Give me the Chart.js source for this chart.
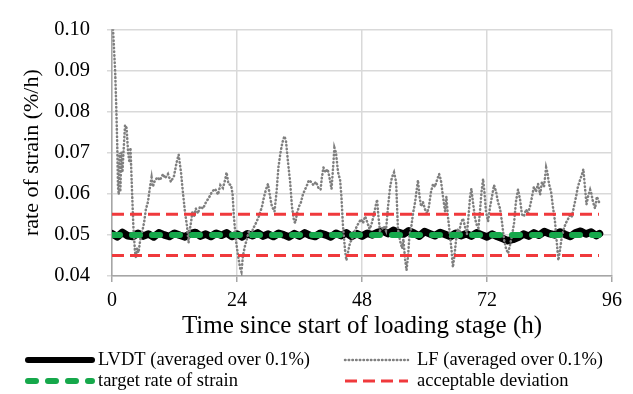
<!DOCTYPE html>
<html>
<head>
<meta charset="utf-8">
<script src="https://cdn.jsdelivr.net/npm/chart.js@4.4.0/dist/chart.umd.min.js"></script>
<style>
  html, body { margin: 0; padding: 0; background: #fff; }
  canvas { display: block; }
</style>
</head>
<body>
<canvas id="grafico" width="633" height="394"></canvas>
<script>
// time (h) and rate of strain (%/h)
const lvdtTime = [0,1,2,3,4,5,6,7,8,9,10,11,12,13,14,15,16,17,18,19,20,21,22,23,24,25,26,27,28,29,30,31,32,33,34,35,36,37,38,39,40,41,42,43,44,45,46,47,48,49,50,51,52,53,54,55,56,57,58,59,60,61,62,63,64,65,66,67,68,69,70,71,72,73,74,75,76,77,78,79,80,81,82,83,84,85,86,87,88,89,90,91,92,93,93.6];
const lvdtRate = [0.0503,0.0495,0.0506,0.0498,0.0496,0.0504,0.0497,0.0502,0.0495,0.0505,0.0500,
  0.0496,0.0504,0.0499,0.0495,0.0503,0.0506,0.0497,0.0502,0.0496,0.0504,
  0.0499,0.0505,0.0496,0.0502,0.0495,0.0503,0.0498,0.0505,0.0497,0.0502,
  0.0496,0.0504,0.0500,0.0495,0.0503,0.0497,0.0505,0.0499,0.0496,0.0504,
  0.0500,0.0495,0.0504,0.0498,0.0505,0.0496,0.0503,0.0497,0.0504,0.0500,
  0.0506,0.0509,0.0503,0.0511,0.0506,0.0502,0.0510,0.0504,0.0497,0.0508,
  0.0503,0.0498,0.0506,0.0501,0.0496,0.0504,0.0498,0.0503,0.0497,0.0505,
  0.0500,0.0495,0.0502,0.0496,0.0491,0.0486,0.0489,0.0494,0.0502,0.0497,
  0.0505,0.0499,0.0508,0.0503,0.0500,0.0507,0.0501,0.0496,0.0505,0.0509,
  0.0502,0.0507,0.0498,0.0503];

const lfTime = [0.2,0.4,0.6,0.8,1.0,1.15,1.3,1.45,1.6,1.8,2.0,2.2,2.5,2.8,3.1,3.35,3.55,3.85,4.1,4.4,4.6,4.8,5.1,5.4,5.75,6.15,6.5,6.9,7.3,7.6,7.85,8.25,8.8,9.2,9.8,10.2,10.75,11.3,11.9,12.4,12.8,13.25,13.6,14.0,14.4,14.7,14.9,15.2,15.45,15.75,16.1,16.5,16.9,17.5,18.05,18.6,19.2,19.8,20.35,20.8,21.3,21.7,22.0,22.35,22.85,23.15,23.4,23.8,24.2,24.6,24.85,25.15,25.55,25.9,26.3,26.7,27.05,27.65,28.2,28.8,29.2,29.55,29.95,30.35,30.7,31.2,31.6,31.95,32.35,32.7,33.1,33.4,33.8,34.2,34.55,34.95,35.2,35.5,35.9,36.3,36.65,37.05,37.45,37.8,38.2,38.7,39.15,39.65,40.05,40.3,40.6,41.0,41.4,41.75,42.15,42.45,42.7,43.0,43.4,43.8,44.05,44.35,44.75,45.0,45.3,45.7,46.1,46.45,46.95,47.35,47.8,48.2,48.6,48.95,49.45,49.8,50.2,50.6,50.9,51.15,51.45,51.85,52.2,52.6,53.0,53.4,53.75,54.15,54.55,54.9,55.3,55.7,55.95,56.25,56.55,56.85,57.1,57.4,57.8,58.2,58.45,58.75,59.05,59.35,59.7,60.1,60.5,60.85,61.25,61.65,62.0,62.4,62.8,63.15,63.55,63.95,64.2,64.5,64.9,65.2,65.45,65.75,66.05,66.35,66.6,67.0,67.4,67.75,68.15,68.45,68.75,69.0,69.3,69.7,70.1,70.35,70.65,70.95,71.25,71.5,71.8,72.2,72.6,72.95,73.35,73.75,74.1,74.5,74.9,75.25,75.65,76.05,76.4,76.8,77.2,77.55,77.95,78.35,78.7,79.1,79.5,79.85,80.25,80.65,81.0,81.4,81.8,82.2,82.55,82.95,83.35,83.6,83.9,84.3,84.65,85.05,85.45,85.7,86.0,86.4,86.8,87.15,87.55,87.95,88.3,88.7,89.1,89.45,89.85,90.25,90.5,90.8,91.1,91.4,91.8,92.05,92.35,92.75,93.1,93.5];
const lfRate = [0.100,0.095,0.090,0.082,0.0724,0.0617,0.0598,0.070,0.0605,0.070,0.0652,0.070,0.0767,0.076,0.070,0.0676,0.0712,0.0605,0.0521,0.0462,0.0443,0.0467,0.0457,0.0486,0.0505,0.0529,0.0562,0.058,0.0617,0.064,0.0617,0.0633,0.064,0.0633,0.0648,0.0638,0.0648,0.0629,0.0643,0.0676,0.0695,0.0652,0.0605,0.0557,0.0521,0.0481,0.051,0.0533,0.0557,0.0545,0.0564,0.0552,0.0569,0.0564,0.058,0.059,0.0605,0.0612,0.0598,0.0621,0.0614,0.0633,0.0652,0.0624,0.0621,0.060,0.0545,0.0486,0.045,0.0419,0.041,0.045,0.0474,0.049,0.051,0.0495,0.0514,0.0529,0.0545,0.0569,0.0593,0.061,0.0624,0.0593,0.0569,0.0557,0.0605,0.0664,0.070,0.0724,0.074,0.0729,0.0676,0.0629,0.0569,0.0533,0.0529,0.0552,0.0569,0.058,0.0598,0.061,0.0621,0.0633,0.0629,0.0621,0.0629,0.0614,0.061,0.064,0.0664,0.0652,0.066,0.064,0.0612,0.0664,0.0712,0.070,0.0652,0.0633,0.0593,0.0521,0.0462,0.0438,0.0457,0.0481,0.049,0.0505,0.0519,0.0529,0.0538,0.0529,0.0545,0.0533,0.0514,0.0524,0.0545,0.0569,0.0586,0.0545,0.051,0.0514,0.0521,0.051,0.0569,0.0617,0.064,0.0652,0.0629,0.0514,0.0486,0.0467,0.049,0.0443,0.0414,0.045,0.0498,0.0514,0.0552,0.058,0.0605,0.0633,0.0593,0.0569,0.058,0.0562,0.0552,0.0569,0.0605,0.0624,0.0617,0.0633,0.0648,0.0633,0.0593,0.0557,0.0593,0.0545,0.0498,0.0462,0.0421,0.045,0.0486,0.0514,0.0502,0.0529,0.054,0.0521,0.0502,0.0545,0.0593,0.0612,0.058,0.054,0.0521,0.0517,0.0557,0.0605,0.0636,0.0605,0.0557,0.0533,0.0569,0.0593,0.0621,0.0605,0.058,0.0564,0.0529,0.049,0.0467,0.0455,0.0474,0.0498,0.0529,0.058,0.061,0.0586,0.055,0.0545,0.0562,0.0552,0.0569,0.0593,0.0617,0.0605,0.0624,0.0598,0.0629,0.0617,0.0664,0.0652,0.0624,0.0605,0.0569,0.0533,0.0474,0.0438,0.0462,0.0498,0.0517,0.0529,0.0538,0.055,0.0545,0.0569,0.0593,0.0617,0.0633,0.0648,0.066,0.0617,0.0574,0.0593,0.061,0.060,0.058,0.0564,0.0593,0.058];

const targetTime = [0, 93.5];
const targetRate = [0.05, 0.05];
const upperRate = [0.055, 0.055];
const lowerRate = [0.045, 0.045];

const yTicks = [0.04, 0.05, 0.06, 0.07, 0.08, 0.09, 0.10];
const xTicks = [0, 24, 48, 72, 96];

const leyendas = ["LVDT (averaged over 0.1%)", "LF (averaged over 0.1%)", "target rate of strain", "acceptable deviation"];

function puntos(xs, ys) {
  return xs.map((x, i) => ({ x: x, y: ys[i] }));
}

const serif = '"Liberation Serif", "Times New Roman", serif';

// legend in two columns, drawn under the axis title
const leyendaPlugin = {
  id: 'leyenda',
  afterDraw(chart) {
    const ctx = chart.ctx;
    const sets = chart.data.datasets;
    const pos = [
      { x0: 28, x1: 92, tx: 98, y: 360 },
      { x0: 345, x1: 408, tx: 417, y: 360 },
      { x0: 28, x1: 92, tx: 98, y: 381 },
      { x0: 345, x1: 408, tx: 417, y: 381 }
    ];
    ctx.save();
    for (let i = 0; i < 4; i++) {
      const ds = sets[i];
      const p = pos[i];
      ctx.beginPath();
      ctx.strokeStyle = ds.borderColor;
      ctx.lineWidth = Math.min(ds.borderWidth, 6);
      ctx.lineCap = ds.borderCapStyle || 'butt';
      ctx.setLineDash(ds.borderDash || []);
      ctx.moveTo(p.x0, p.y);
      ctx.lineTo(p.x1, p.y);
      ctx.stroke();
      ctx.setLineDash([]);
      ctx.fillStyle = '#000';
      ctx.font = '18.5px ' + serif;
      ctx.textBaseline = 'middle';
      ctx.fillText(leyendas[i], p.tx, p.y);
    }
    ctx.restore();
  }
};

new Chart(document.getElementById('grafico').getContext('2d'), {
  type: 'line',
  data: {
    datasets: [
      { label: leyendas[0], data: puntos(lvdtTime, lvdtRate), borderColor: '#000000', borderWidth: 7.5,
        borderCapStyle: 'round', borderJoinStyle: 'round', pointRadius: 0, order: 4 },
      { label: leyendas[1], data: puntos(lfTime, lfRate), borderColor: '#7f7f7f', borderWidth: 2.5,
        borderCapStyle: 'round', borderDash: [0.5, 3.2], pointRadius: 0, order: 3 },
      { label: leyendas[2], data: puntos(targetTime, targetRate), borderColor: '#16a84b', borderWidth: 6,
        borderCapStyle: 'round', borderDash: [8, 12], pointRadius: 0, order: 2 },
      { label: leyendas[3], data: puntos(targetTime, upperRate), borderColor: '#f0393c', borderWidth: 3,
        borderDash: [12, 6], pointRadius: 0, order: 1 },
      { label: leyendas[3], data: puntos(targetTime, lowerRate), borderColor: '#f0393c', borderWidth: 3,
        borderDash: [12, 6], pointRadius: 0, order: 1 }
    ]
  },
  options: {
    responsive: false,
    animation: false,
    devicePixelRatio: 1,
    layout: { padding: { left: 0, right: 21, top: 24, bottom: 50 } },
    plugins: { legend: { display: false }, tooltip: { enabled: false } },
    scales: {
      x: {
        type: 'linear',
        min: 0,
        max: 96,
        afterBuildTicks: (s) => { s.ticks = xTicks.map(v => ({ value: v })); },
        afterFit: (s) => { s.height = 68; },
        grid: { color: '#d9d9d9', lineWidth: 1.5, tickLength: 6, tickColor: '#a6a6a6' },
        border: { color: '#a6a6a6', width: 1.5 },
        ticks: { color: '#000', padding: 7, font: { family: serif, size: 20 } },
        title: { display: true, text: 'Time since start of loading stage (h)', color: '#000',
          padding: { top: 0, bottom: 3 }, font: { family: serif, size: 25 } }
      },
      y: {
        min: 0.04,
        max: 0.10,
        afterBuildTicks: (s) => { s.ticks = yTicks.map(v => ({ value: v })); },
        afterFit: (s) => { s.width = 112; },
        grid: { color: '#d9d9d9', lineWidth: 1.5, tickLength: 5, tickColor: '#d9d9d9' },
        border: { color: '#a6a6a6', width: 1.5 },
        ticks: { color: '#000', padding: 17, font: { family: serif, size: 20.5 },
          callback: (v) => v.toFixed(2) },
        title: { display: true, text: 'rate of strain (%/h)', color: '#000',
          padding: { top: 19, bottom: 0 }, font: { family: serif, size: 22 } }
      }
    }
  },
  plugins: [leyendaPlugin]
});
</script>
</body>
</html>
